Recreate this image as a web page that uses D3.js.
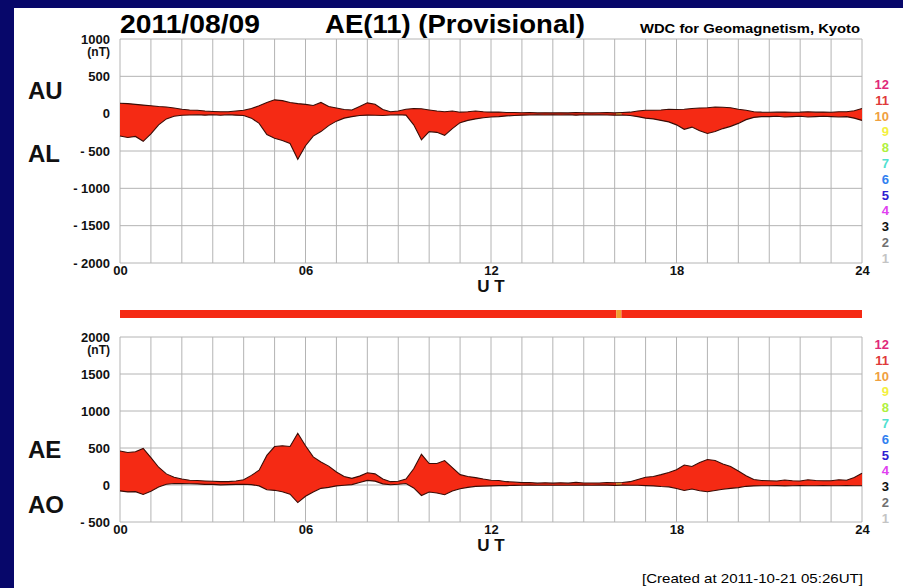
<!DOCTYPE html>
<html lang="en">
<head>
<meta charset="utf-8">
<title>AE(11) Provisional 2011/08/09</title>
<script src="https://d3js.org/d3.v7.min.js"></script>
<style>
  body { margin: 0; padding: 0; overflow: hidden; background: #07076a; }
  text { font-family: "Liberation Sans", Arial, Helvetica, sans-serif; }
</style>
</head>
<body>
<svg id="chart"></svg>
<script>
// 15-minute samples, 00:00 .. 24:00 UT (97 values each), nT
const au = [140,135,125,115,105,95,90,75,60,50,45,35,30,25,25,35,
  45,70,105,150,185,175,150,135,125,110,150,95,75,55,50,95,
  145,125,55,25,35,60,70,65,50,35,25,35,20,25,35,25,
  20,22,15,15,12,15,10,12,10,12,10,15,12,10,12,15,
  10,15,20,35,45,45,50,60,55,60,70,75,80,90,85,80,
  60,45,25,20,18,20,22,18,20,25,20,22,18,25,25,40,70];
const al = [-300,-320,-305,-370,-270,-150,-70,-35,-22,-18,-15,-20,-15,-22,-15,-20,
  -25,-60,-130,-280,-330,-360,-400,-610,-430,-300,-240,-160,-100,-60,-40,-25,
  -20,-22,-25,-18,-15,-20,-150,-350,-240,-250,-290,-200,-120,-90,-70,-55,
  -45,-40,-30,-25,-20,-18,-15,-18,-15,-18,-15,-20,-15,-18,-15,-18,
  -20,-18,-25,-40,-60,-70,-90,-110,-150,-210,-180,-230,-265,-240,-200,-170,
  -130,-80,-50,-40,-40,-35,-45,-40,-35,-45,-40,-35,-40,-45,-40,-60,-90];
const ae = [460,440,450,495,370,240,150,105,80,65,60,55,50,45,45,55,
  70,130,200,400,520,530,520,700,530,380,310,255,175,115,90,120,
  165,150,80,45,50,80,220,415,290,290,330,235,140,115,100,80,
  65,60,45,40,32,33,25,30,25,30,25,35,27,28,27,33,
  30,33,45,75,105,115,140,170,205,270,250,305,345,330,285,250,
  190,125,75,60,58,55,67,58,55,70,60,57,58,70,65,100,160];
const ao = [-80,-93,-90,-128,-83,-28,10,20,19,16,15,8,8,2,5,8,
  10,5,-12,-65,-72,-92,-125,-238,-152,-95,-45,-32,-12,-3,5,35,
  62,52,15,4,10,20,-40,-142,-95,-108,-132,-82,-50,-32,-18,-15,
  -12,-9,-8,-5,-4,-2,-3,-3,-3,-3,-3,-3,-2,-4,-2,-2,
  -5,-2,-3,-3,-8,-12,-20,-25,-48,-75,-55,-78,-92,-75,-58,-45,
  -35,-18,-12,-10,-11,-8,-12,-11,-8,-10,-10,-7,-11,-10,-8,-10,-10];

// number of contributing stations by UT interval (hours)
const segStart = [0, 16.05, 16.22];
const segEnd = [16.05, 16.22, 24];
const segStations = [11, 10, 11];

// station-count colour legend
const legendCounts = [12, 11, 10, 9, 8, 7, 6, 5, 4, 3, 2, 1];
const legendColors = ["#e0287a", "#e03a3a", "#f0a040", "#f4f040", "#b0f040", "#50e0d0",
  "#3080f0", "#3020d0", "#e040f0", "#111111", "#707070", "#c4c4c4"];
const fillByCount = { 11: "#f52a14", 10: "#f0a030" };

const topTicks = [1000, 500, 0, -500, -1000, -1500, -2000];
const botTicks = [2000, 1500, 1000, 500, 0, -500];
const hourLabels = [0, 6, 12, 18, 24];

const W = 903, H = 588;
const svg = d3.select("#chart").attr("width", W).attr("height", H);

svg.append("rect").attr("width", W).attr("height", H).attr("fill", "#07076a");
svg.append("rect").attr("x", 14).attr("y", 8).attr("width", W - 14).attr("height", H - 8).attr("fill", "#ffffff");

const x = d3.scaleLinear().domain([0, 24]).range([120, 862]);
const hours = au.map((_, i) => i / 4);

// title texts
svg.append("text").attr("x", 120).attr("y", 33).attr("font-size", 25).attr("font-weight", "bold")
  .attr("textLength", 140).attr("lengthAdjust", "spacingAndGlyphs").text("2011/08/09");
svg.append("text").attr("x", 325).attr("y", 33).attr("font-size", 25).attr("font-weight", "bold")
  .attr("textLength", 260).attr("lengthAdjust", "spacingAndGlyphs").text("AE(11) (Provisional)");
svg.append("text").attr("x", 640).attr("y", 33).attr("font-size", 12).attr("font-weight", "bold")
  .attr("textLength", 220).attr("lengthAdjust", "spacingAndGlyphs").text("WDC for Geomagnetism, Kyoto");
svg.append("text").attr("x", 642).attr("y", 583).attr("font-size", 13)
  .attr("textLength", 221).attr("lengthAdjust", "spacingAndGlyphs").text("[Created at 2011-10-21 05:26UT]");

const fmtY = d => d < 0 ? "- " + Math.abs(d) : String(d);

function panel(opts) {
  const y = d3.scaleLinear().domain(opts.domain).range([opts.bottom, opts.top]);
  const g = svg.append("g");

  // grid
  g.append("g").selectAll("line").data(d3.range(0, 25)).join("line")
    .attr("x1", d => x(d)).attr("x2", d => x(d))
    .attr("y1", opts.top).attr("y2", opts.bottom)
    .attr("stroke", "#b4b4b4").attr("stroke-width", 1);
  g.append("g").selectAll("line").data(opts.ticks).join("line")
    .attr("x1", x(0)).attr("x2", x(24))
    .attr("y1", d => y(d)).attr("y2", d => y(d))
    .attr("stroke", "#b4b4b4").attr("stroke-width", 1);

  // filled band between the two series, coloured by station count
  const band = d3.area().x((d, i) => x(hours[i]))
    .y0((d, i) => y(opts.lower[i])).y1((d, i) => y(opts.upper[i]));
  segStart.forEach((s, k) => {
    const id = opts.id + "-clip" + k;
    svg.append("clipPath").attr("id", id).append("rect")
      .attr("x", x(s)).attr("width", x(segEnd[k]) - x(s))
      .attr("y", opts.top).attr("height", opts.bottom - opts.top);
    g.append("path").datum(opts.upper).attr("d", band)
      .attr("clip-path", `url(#${id})`)
      .attr("fill", fillByCount[segStations[k]]);
  });
  const line = arr => d3.line().x((d, i) => x(hours[i])).y(d => y(d))(arr);
  [opts.upper, opts.lower].forEach(arr => {
    g.append("path").attr("d", line(arr)).attr("fill", "none")
      .attr("stroke", "#3a0c06").attr("stroke-width", 1.1);
  });

  // y axis labels
  const yAxis = d3.axisLeft(y).tickValues(opts.ticks).tickSize(0).tickPadding(10).tickFormat(fmtY);
  const ya = g.append("g").attr("transform", `translate(${x(0)},0)`).call(yAxis);
  ya.select(".domain").remove();
  ya.selectAll("text").attr("font-size", 13).attr("font-weight", "bold")
    .attr("font-family", "Liberation Sans, Arial, sans-serif").attr("fill", "#111");
  g.append("text").attr("x", 110).attr("y", opts.top + 17).attr("text-anchor", "end")
    .attr("font-size", 12).attr("font-weight", "bold").attr("fill", "#111").text("(nT)");

  // x axis labels
  const xAxis = d3.axisBottom(x).tickValues(hourLabels).tickSize(0).tickPadding(3)
    .tickFormat(d3.format("02d"));
  const xa = g.append("g").attr("transform", `translate(0,${opts.bottom})`).call(xAxis);
  xa.select(".domain").remove();
  xa.selectAll("text").attr("font-size", 13).attr("font-weight", "bold")
    .attr("font-family", "Liberation Sans, Arial, sans-serif").attr("fill", "#111");
  g.append("text").attr("x", x(12)).attr("y", opts.bottom + 29).attr("text-anchor", "middle")
    .attr("font-size", 17).attr("font-weight", "bold").attr("fill", "#111").text("U T");

  // series names
  opts.names.forEach((n, k) => {
    g.append("text").attr("x", 28).attr("y", opts.nameY[k]).attr("font-size", 24)
      .attr("font-weight", "bold").attr("fill", "#111").text(n);
  });

  // station legend
  g.append("g").selectAll("text").data(legendCounts).join("text")
    .attr("x", 889).attr("y", (d, i) => opts.legendY + i * 15.8)
    .attr("text-anchor", "end").attr("font-size", 13).attr("font-weight", "bold")
    .attr("fill", (d, i) => legendColors[i]).text(d => d);
}

panel({ id: "top", domain: [-2000, 1000], top: 39, bottom: 263, ticks: topTicks,
  upper: au, lower: al, names: ["AU", "AL"], nameY: [99, 162], legendY: 89 });
panel({ id: "bot", domain: [-500, 2000], top: 337, bottom: 522, ticks: botTicks,
  upper: ae, lower: ao, names: ["AE", "AO"], nameY: [458, 513], legendY: 349 });

// station-count bar between the panels
svg.append("g").selectAll("rect").data(segStart).join("rect")
  .attr("x", d => x(d)).attr("width", (d, i) => x(segEnd[i]) - x(d))
  .attr("y", 310).attr("height", 8)
  .attr("fill", (d, i) => fillByCount[segStations[i]]);
</script>
</body>
</html>
